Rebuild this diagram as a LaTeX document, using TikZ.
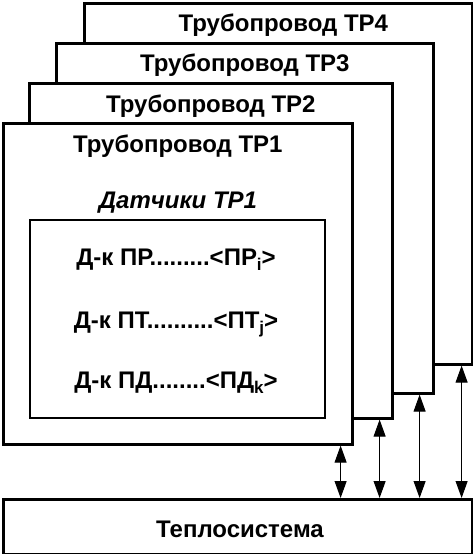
\documentclass[tikz,border=0pt]{standalone}
\usepackage{fontspec}
\setmainfont{Liberation Sans}
\usetikzlibrary{arrows.meta,positioning}

\newcommand{\sensidx}[1]{\raisebox{-5pt}{\fontsize{17pt}{19pt}\selectfont #1}}

\tikzset{
    pipebox/.style={draw, line width=2.6pt, fill=white, anchor=north west, inner sep=0pt},
    sensbox/.style={draw, line width=1.6pt, fill=white, anchor=north west, inner sep=0pt},
    boxtitle/.style={font=\fontsize{24pt}{28pt}\selectfont\bfseries, inner sep=0pt, anchor=base},
    link/.style={line width=1pt, {Triangle[length=17pt,width=12pt]}-{Triangle[length=17pt,width=12pt]}}
}

\begin{document}
\begin{tikzpicture}[x=1pt, y=-1pt]
    \useasboundingbox (0,0) rectangle (473,554);

    % pipelines, back to front
    \node[pipebox, minimum width=388pt, minimum height=361pt] (tp4) at (83,2) {};
    \node[boxtitle] (t4) at ([xshift=5pt,yshift=-29pt]tp4.north) {Трубопровод ТР4};

    \node[pipebox, minimum width=377pt, minimum height=350pt] (tp3) at (55,42) {};
    \node[boxtitle] (t3) at ([yshift=-29pt]tp3.north) {Трубопровод ТР3};

    \node[pipebox, minimum width=363pt, minimum height=335pt] (tp2) at (28,82) {};
    \node[boxtitle] (t2) at ([yshift=-30pt]tp2.north) {Трубопровод ТР2};

    \node[pipebox, minimum width=349pt, minimum height=321pt] (tp1) at (2,122) {};
    \node[boxtitle] (t1) at ([yshift=-30pt]tp1.north) {Трубопровод ТР1};

    % sensors
    \node[boxtitle, font=\fontsize{24pt}{28pt}\selectfont\bfseries\itshape] (sens) at (178,208) {Датчики ТР1};
    \node[sensbox, minimum width=295pt, minimum height=198pt] (box) at (29,219) {};
    \node[boxtitle] (pr) at (176,265) {Д-к ПР.........<ПР\sensidx{i}>};
    \node[boxtitle] (pt) at (176,328) {Д-к ПТ..........<ПТ\sensidx{j}>};
    \node[boxtitle] (pd) at (176,388) {Д-к ПД........<ПД\sensidx{k}>};

    % heat system
    \node[pipebox, minimum width=469pt, minimum height=55pt] (teplo) at (2,498) {};
    \node[boxtitle] (tt) at (240,537) {Теплосистема};

    % links
    \foreach \p/\d in {tp1/13, tp2/14, tp3/15, tp4/12} {
        \coordinate (a\p) at ([xshift=-\d pt]\p.south east);
        \draw[link] (a\p) -- (a\p |- teplo.north);
    }
\end{tikzpicture}
\end{document}
